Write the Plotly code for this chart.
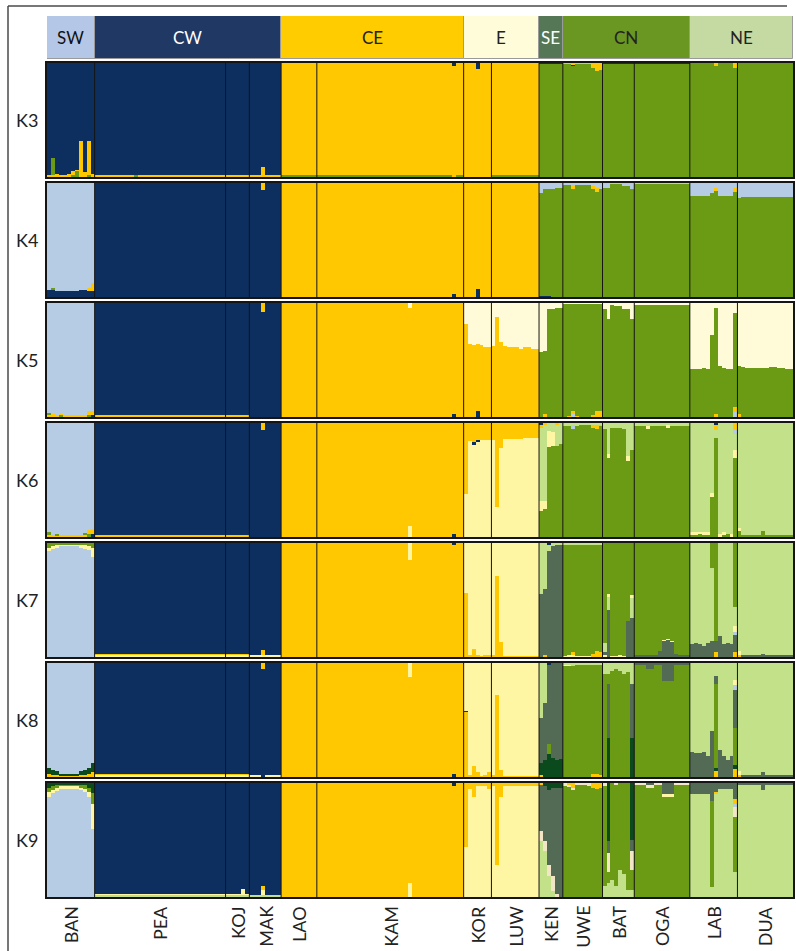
import plotly.graph_objects as go

# ---------------------------------------------------------------------------
# Populations (left to right) and number of individuals sampled in each
POPS = ["BAN", "PEA", "KOJ", "MAK", "LAO", "KAM", "KOR", "LUW",
        "KEN", "UWE", "BAT", "OGA", "LAB", "DUA"]
COUNTS = [12, 33, 6, 8, 9, 37, 7, 12, 6, 10, 8, 14, 12, 14]

# Geographic regions shown in the header row and how many populations each spans
REGIONS = ["SW", "CW", "CE", "E", "SE", "CN", "NE"]
REGION_NPOPS = [1, 3, 2, 2, 1, 3, 2]
REGION_COLORS = ["#B4C7E7", "#1F3864", "#FFCC00", "#FFFCD9", "#557755", "#6A9622", "#C5DAA2"]
REGION_TEXT = ["#111111", "#FFFFFF", "#222222", "#222222", "#FFFFFF", "#222222", "#222222"]

K_LABELS = ["K3", "K4", "K5", "K6", "K7", "K8", "K9"]

# Ancestry cluster colours
CLUSTER_COLORS = {
    "n": "#0C2F60",  # navy
    "b": "#B6CCE5",  # light blue
    "y": "#FFC800",  # yellow
    "c": "#FFFBD8",  # cream
    "p": "#FFF6A3",  # pale yellow
    "g": "#6B9B14",  # green
    "l": "#C2E189",  # light green
    "s": "#536A55",  # grey green
    "d": "#0B4A1C",  # dark green
    "e": "#F3E6C6",  # beige
}

# Membership coefficients per individual, bottom-to-top segments as
# <cluster><percent>; "N*" repeats the same individual N times.
Q_K3 = {
    "BAN": ["y2 n98", "y2 g15 n83", "y3 n97", "y2 n98", "y2 n98", "y3 n97",
            "g2 y3 n95", "g5 y1 n94", "y32 n68", "y4 n96", "g2 y30 n68", "y3 n97"],
    "PEA": ["10*y1 n99", "g1 n99", "12*y1 n99", "y2 n98", "9*y1 n99"],
    "KOJ": ["3*y1 n99", "y2 n98", "2*y1 n99"],
    "MAK": ["3*y1 n99", "y9 n91", "4*y1 n99"],
    "LAO": ["9*g1 y99"],
    "KAM": ["34*g1 y99", "y97 n3", "2*g1 y99"],
    "KOR": ["3*y100", "y95 n5", "3*y100"],
    "LUW": ["12*g1 y99"],
    "KEN": ["6*g99 n1"],
    "UWE": ["2*g99 y1", "g97 n1 y2", "4*g99 y1", "g96 y4", "g93 y7", "g94 y6"],
    "BAT": ["8*g99 n1"],
    "OGA": ["14*g99 n1"],
    "LAB": ["6*g100", "g97 y3", "4*g100", "g96 y4"],
    "DUA": ["14*g100"],
}

Q_K4 = {
    "BAN": ["n6 b94", "n6 g2 b92", "n5 b95", "n5 b95", "n5 b95", "n5 b95",
            "n5 b95", "n5 b95", "n6 b94", "n6 b94", "n5 y3 b92", "n5 y7 b88"],
    "PEA": ["33*n100"],
    "KOJ": ["6*n100"],
    "MAK": ["3*n100", "n94 y6", "4*n100"],
    "LAO": ["9*y100"],
    "KAM": ["34*y100", "n3 y97", "2*y100"],
    "KOR": ["3*y100", "n7 y93", "3*y100"],
    "LUW": ["12*y100"],
    "KEN": ["n1 g90 b9", "n1 g94 b5", "n1 g94 b5", "g95 b5", "g96 b4", "g96 b4"],
    "UWE": ["2*g98 b2", "g95 y3 b2", "4*g98 b2", "g95 y2 b3", "g92 y4 b4", "g95 b5"],
    "BAT": ["g96 b4", "g96 b4", "g99 b1", "g99 b1", "g99 b1", "g97 b3", "g97 b3", "g95 b5"],
    "OGA": ["14*g99 b1"],
    "LAB": ["5*g89 b11", "g91 b9", "g93 y3 b4", "4*g89 b11", "g92 y4 b4"],
    "DUA": ["g87 b13", "13*g88 b12"],
}

Q_K5 = {
    "BAN": ["y2 g1 b97", "y3 b97", "y2 b98", "g1 y1 b98", "y1 b99", "y1 b99",
            "y1 b99", "y1 b99", "y2 b98", "y2 b98", "g2 y3 b95", "n2 y3 b95"],
    "PEA": ["33*y1 n99"],
    "KOJ": ["6*y1 n99"],
    "MAK": ["3*n100", "n92 y8", "4*n100"],
    "LAO": ["9*y100"],
    "KAM": ["23*y100", "y96 c4", "10*y100", "n3 y97", "2*y100"],
    "KOR": ["y82 c18", "y64 c36", "y63 c37", "n5 y59 c36", "y63 c37", "y61 c39", "y61 c39"],
    "LUW": ["y62 c38", "y88 c12", "y66 c34", "y62 c38", "3*y61 c39", "y60 c40",
            "2*y61 c39", "2*y60 c40"],
    "KEN": ["g57 c43", "y3 g55 c42", "g95 c5", "g95 c5", "g96 c4", "g96 c4"],
    "UWE": ["g99 c1", "y1 g98 c1", "b3 y2 g94 c1", "y1 g98 c1", "3*g99 c1",
            "y2 g97 c1", "y5 g94 c1", "y5 g94 c1"],
    "BAT": ["g95 c5", "g86 c14", "g98 c2", "g97 c3", "g97 c3", "g95 c5", "g95 c5", "g86 c14"],
    "OGA": ["14*g98 c2"],
    "LAB": ["3*g42 c58", "g43 c57", "g42 c58", "g72 c28", "y3 g93 c4", "g45 c55",
            "g43 c57", "2*g42 c58", "b4 y5 g82 c9"],
    "DUA": ["y3 g42 c55", "g44 c56", "6*g43 c57", "2*g44 c56", "2*g43 c57", "2*g42 c58"],
}

Q_K6 = {
    "BAN": ["y2 g2 b96", "y2 b98", "y1 g1 b98", "5*y1 b99", "y2 b98", "y2 g1 b97",
            "g3 y3 b94", "n3 y4 b93"],
    "PEA": ["33*y1 n99"],
    "KOJ": ["6*y1 n99"],
    "MAK": ["3*n100", "n94 y6", "4*n100"],
    "LAO": ["9*y100"],
    "KAM": ["23*y100", "p10 y90", "10*y100", "n3 y97", "2*y100"],
    "KOR": ["p38 y62", "p84 y16", "p81 n2 y17", "p83 n2 y15", "3*p85 y15"],
    "LUW": ["p85 y15", "p26 y74", "p78 y22", "5*p86 y14", "4*p87 y13"],
    "KEN": ["g23 p9 l64 y2 n2", "g25 p7 l66 y2", "g79 p14 l7", "g80 p12 l8",
            "g80 l18 y2", "g82 l18"],
    "UWE": ["2*g97 l3", "g95 b3 n1 l1", "g97 l3", "3*g98 l2", "g96 y3 l1",
            "g95 y4 l1", "g97 y2 l1"],
    "BAT": ["g95 l5", "g69 p4 l27", "3*g96 l4", "g95 l5", "g67 p4 l29", "g76 l24"],
    "OGA": ["3*g97 l3", "g95 p2 l3", "4*g97 l3", "g96 p2 l2", "5*g97 l3"],
    "LAB": ["2*g2 p2 l96", "g3 p1 l96", "2*g2 p2 l96", "g35 p4 l61", "g87 l7 y4 n2",
            "p3 l97", "g2 p2 l96", "g3 l97", "p3 l97", "g69 p7 l14 b4 y6"],
    "DUA": ["g5 p3 l92", "5*g2 l98", "g5 l95", "7*g2 l98"],
}

Q_K7 = {
    "BAN": ["b93 p3 g4", "b95 p2 g3", "b96 p2 g2", "5*b97 p2 g1", "b96 p2 g2",
            "b95 p3 g2", "b94 p3 g3", "b88 p8 g4"],
    "PEA": ["33*p1 y1 n98"],
    "KOJ": ["6*p1 y1 n98"],
    "MAK": ["3*p1 n99", "p2 y4 n94", "4*p1 n99"],
    "LAO": ["9*y100"],
    "KAM": ["23*y100", "y85 p15", "10*y100", "y98 n2", "2*y100"],
    "KOR": ["y56 p44", "y2 p98", "y7 p93", "y2 p98", "y1 p99", "y2 p98", "y2 p98"],
    "LUW": ["y2 p98", "y71 p29", "y13 p87", "9*y1 p99"],
    "KEN": ["s55 l45", "y2 s58 l40", "s93 l5 n2", "s97 l3", "s98 l2", "s98 l2"],
    "UWE": ["p1 g98 l1", "p2 g97 l1", "p2 y2 g95 l1", "4*p1 g98 l1", "y3 g96 l1",
            "y5 g94 l1", "y4 g95 l1"],
    "BAT": ["p2 s2 l8 g88", "s41 l12 p2 g45", "2*p1 g99", "p2 g98", "p1 g99",
            "s32 g68", "s34 l18 p2 g46"],
    "OGA": ["6*s2 g98", "s5 g95", "s14 p1 g85", "s15 p1 g84", "s13 p1 g86", "s3 g97",
            "3*s2 g98"],
    "LAB": ["s11 l89", "s12 l88", "s11 l89", "s10 l90", "s12 l88", "s14 l64 g22",
            "y4 s10 g86", "s18 l82", "s11 l89", "s12 l88", "s11 l89",
            "y4 s15 b3 p5 l17 g56"],
    "DUA": ["y2 p3 l95", "5*s1 l99", "s3 l97", "7*s1 l99"],
}

Q_K8 = {
    "BAN": ["y3 d5 b92", "y2 d4 b94", "y2 d3 b95", "5*y1 d2 b97", "y2 d3 b95",
            "y2 d4 b94", "y3 d5 b92", "y4 d8 b88"],
    "PEA": ["33*p1 y1 n98"],
    "KOJ": ["6*p1 y1 n98"],
    "MAK": ["3*p1 n99", "n95 y5", "4*p1 n99"],
    "LAO": ["9*y100"],
    "KAM": ["23*y100", "y88 p12", "10*y100", "n3 y97", "2*y100"],
    "KOR": ["y57 n1 p42", "y2 p98", "y10 p90", "y4 p96", "y1 p99", "y2 p98", "y4 p96"],
    "LUW": ["y2 p98", "y72 p28", "y6 p94", "9*y1 p99"],
    "KEN": ["y2 d10 s40 l48", "d15 s50 l35", "d20 g9 s69 n2", "d17 s83", "d15 s85",
            "d16 s84"],
    "UWE": ["2*g97 p1 l2", "g97 b1 l2", "4*g98 l2", "y3 g95 l2", "y3 g95 l2", "y2 g96 l2"],
    "BAT": ["g90 l10", "d34 s48 g8 l10", "g93 l7", "g95 l5", "g93 l7", "g90 l10",
            "g92 l8", "d34 s48 l18"],
    "OGA": ["3*g99 s1", "2*g95 s5", "2*g99 s1", "3*g84 s16", "4*g99 s1"],
    "LAB": ["s22 l78", "s21 l79", "s21 l79", "s22 l78", "s18 l82", "s40 l60",
            "y5 d3 g74 s7 l11", "s24 l76", "s18 l82", "s15 l85", "s18 l82",
            "y7 d3 g32 s33 b4 p4 l15"],
    "DUA": ["y2 p3 l95", "5*s1 l99", "s4 l96", "7*s1 l99"],
}

Q_K9 = {
    "BAN": ["b88 p4 g4 d4", "b91 p3 g3 d3", "b93 p3 g2 d2", "5*b95 p2 g2 d1",
            "b94 p2 g2 d2", "b92 p3 g3 d2", "b88 p4 g4 d4", "b60 p22 g9 d9"],
    "PEA": ["33*l1 p1 n98"],
    "KOJ": ["4*l1 p1 n98", "l2 p5 n93", "l1 p1 n98"],
    "MAK": ["3*l1 n99", "l1 p5 y4 n90", "4*l1 n99"],
    "LAO": ["9*y100"],
    "KAM": ["23*y100", "p12 y88", "10*y100", "y97 n3", "2*y100"],
    "KOR": ["p44 y56", "p95 y5", "p88 y12", "3*p97 y3", "p95 y5"],
    "LUW": ["p97 y3", "p28 y72", "p88 y12", "9*p97 y3"],
    "KEN": ["l49 e9 s40 y2", "l40 e9 s48 d3", "l18 e10 s66 d6", "l5 e13 s78 d4",
            "e3 s93 d4", "s96 d4"],
    "UWE": ["g97 e3", "g97 e1 y2", "g94 e2 y4", "3*g98 e2", "g97 e3", "g96 y4",
            "g95 y5", "g96 y4"],
    "BAT": ["l10 g87 e3", "l12 g10 e17 s10 d51", "l15 g85", "l10 g88 e2", "l24 g76",
            "l20 g80", "l6 g94", "l6 g18 e16 s10 d50"],
    "OGA": ["3*g98 e2", "2*g96 e2 s2", "2*g98 e2", "3*g88 p2 s10", "4*g98 e2"],
    "LAB": ["5*l90 s10", "l9 g75 s16", "l90 y2 s8", "4*l95 s5", "l22 g48 e9 b3 y4 s14"],
    "DUA": ["l98 s2", "5*l98 s2", "l94 s6", "7*l98 s2"],
}

Q_ALL = [Q_K3, Q_K4, Q_K5, Q_K6, Q_K7, Q_K8, Q_K9]


def expand(rows):
    """Turn the compact row notation into a list of [(cluster, fraction), ...]."""
    out = []
    for row in rows:
        rep = 1
        if "*" in row:
            r, row = row.split("*", 1)
            rep = int(r)
        segs = [(tok[0], float(tok[1:])) for tok in row.split()]
        tot = sum(v for _, v in segs)
        segs = [(c, v / tot) for c, v in segs]
        out.extend([segs] * rep)
    return out


# ---------------------------------------------------------------------------
W, H = 796, 951
N = sum(COUNTS)
X_DOM = [47 / W, 793 / W]
HEADER_PX = (16, 59)
PANEL_TOP0, PANEL_H, PANEL_STEP = 63, 114, 120
FONT = "Lato, 'Open Sans', sans-serif"


def ydom(top_px, bot_px):
    return [1 - bot_px / H, 1 - top_px / H]


# population boundaries in individual-index units
starts = []
acc = 0
for c in COUNTS:
    starts.append(acc)
    acc += c
centers = [s + c / 2 - 0.5 for s, c in zip(starts, COUNTS)]

fig = go.Figure()
layout = {}

# header row with the regional groupings
reg_x, reg_w = [], []
pi = 0
for npop in REGION_NPOPS:
    s = starts[pi]
    e = starts[pi + npop - 1] + COUNTS[pi + npop - 1]
    reg_x.append((s + e) / 2 - 0.5)
    reg_w.append(e - s)
    pi += npop
fig.add_trace(go.Bar(
    x=reg_x, y=[1] * len(REGIONS), width=reg_w, base=[0] * len(REGIONS),
    marker=dict(color=REGION_COLORS, line=dict(color="#9A9A9A", width=1)),
    xaxis="x", yaxis="y", showlegend=False, hoverinfo="skip"))
axis_common = dict(showgrid=False, zeroline=False, showticklabels=False, ticks="",
                   fixedrange=True)
layout["xaxis"] = dict(domain=X_DOM, range=[-0.5, N - 0.5], anchor="y", **axis_common)
layout["yaxis"] = dict(domain=ydom(*HEADER_PX), range=[0, 1], anchor="x", **axis_common)

annotations = []
for name, x, col in zip(REGIONS, reg_x, REGION_TEXT):
    annotations.append(dict(x=x, y=0.5, xref="x", yref="y", text=name, showarrow=False,
                            xanchor="center", yanchor="middle",
                            font=dict(family=FONT, size=17, color=col)))

shapes = []
for ki, (klabel, q) in enumerate(zip(K_LABELS, Q_ALL)):
    ax = ki + 2
    xa, ya = f"x{ax}", f"y{ax}"
    inds = []
    for pop, n in zip(POPS, COUNTS):
        rows = expand(q[pop])
        assert len(rows) == n, (klabel, pop, len(rows))
        inds.extend(rows)
    per = {c: ([], [], []) for c in CLUSTER_COLORS}
    for idx, segs in enumerate(inds):
        base = 0.0
        for c, f in segs:
            xs, ys, bs = per[c]
            xs.append(idx)
            ys.append(f)
            bs.append(base)
            base += f
    for c, (xs, ys, bs) in per.items():
        if not xs:
            continue
        fig.add_trace(go.Bar(x=xs, y=ys, base=bs, width=1.0,
                             marker=dict(color=CLUSTER_COLORS[c], line=dict(width=0)),
                             xaxis=xa, yaxis=ya, showlegend=False, hoverinfo="skip"))
    top = PANEL_TOP0 + ki * PANEL_STEP
    box = dict(showline=True, mirror=True, linecolor="#151515", linewidth=1.6)
    layout[f"xaxis{ax}"] = dict(domain=X_DOM, range=[-0.5, N - 0.5], anchor=ya,
                                **axis_common, **box)
    layout[f"yaxis{ax}"] = dict(domain=ydom(top, top + PANEL_H), range=[0, 1], anchor=xa,
                                **axis_common, **box)
    for s in starts[1:]:
        shapes.append(dict(type="line", xref=xa, yref=f"{ya} domain",
                           x0=s - 0.5, x1=s - 0.5, y0=0, y1=1,
                           line=dict(color="#151515", width=1)))
    annotations.append(dict(x=27 / W, y=1 - (top + PANEL_H / 2) / H, xref="paper",
                            yref="paper", text=klabel, showarrow=False,
                            xanchor="center", yanchor="middle",
                            font=dict(family=FONT, size=18, color="#222222")))

# population names under the last panel
last_x = f"x{len(K_LABELS) + 1}"
for name, cx in zip(POPS, centers):
    annotations.append(dict(x=cx, y=1 - 904 / H, xref=last_x, yref="paper", text=name,
                            textangle=-90, yanchor="top", xanchor="center",
                            showarrow=False,
                            font=dict(family=FONT, size=18, color="#222222")))

# outer frame (top and left edges)
shapes.append(dict(type="line", xref="paper", yref="paper", x0=8 / W, x1=787 / W,
                   y0=1 - 6 / H, y1=1 - 6 / H, line=dict(color="#4A4A4A", width=1.5)))
shapes.append(dict(type="line", xref="paper", yref="paper", x0=8 / W, x1=8 / W,
                   y0=0, y1=1 - 6 / H, line=dict(color="#4A4A4A", width=1.5)))

fig.update_layout(
    width=W, height=H, margin=dict(l=0, r=0, t=0, b=0),
    paper_bgcolor="white", plot_bgcolor="white",
    barmode="overlay", bargap=0, showlegend=False,
    shapes=shapes, annotations=annotations, **layout)

fig.write_html("out.html")
